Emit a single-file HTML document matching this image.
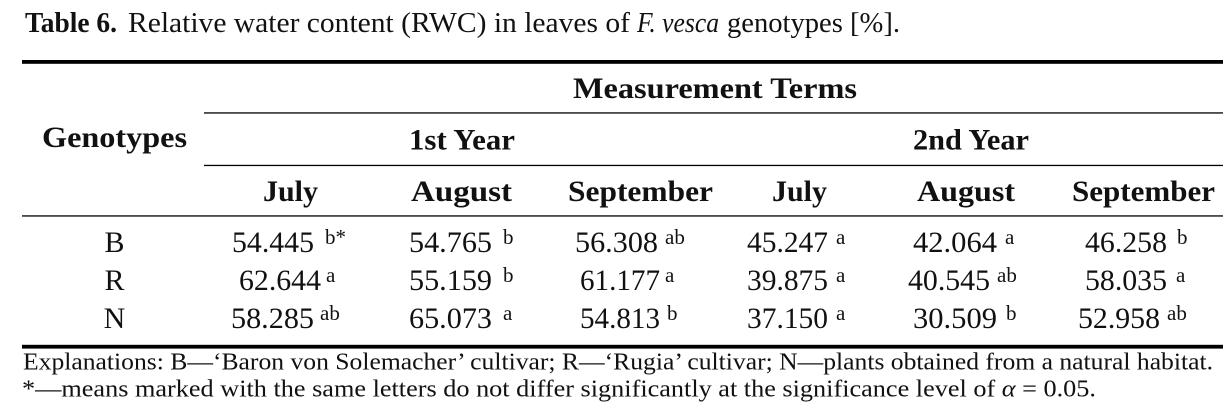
<!DOCTYPE html>
<html>
<head>
<meta charset="utf-8">
<style>
  html, body { margin: 0; padding: 0; background: #fff; }
  svg { display: block; }
  text { font-family: "Liberation Serif", "DejaVu Serif", serif; fill: #111; }
  .b { font-weight: bold; }
  .h { font-size: 30px; font-weight: bold; }
  .n { font-size: 30px; }
  .s { font-size: 21px; }
  .f { font-size: 24.5px; }
</style>
</head>
<body>
<svg width="1230" height="412" viewBox="0 0 1230 412" xmlns="http://www.w3.org/2000/svg">
  <rect x="0" y="0" width="1230" height="412" fill="#fff"/>

  <!-- Title -->
  <text x="25" y="32" font-size="28" class="b" textLength="92" lengthAdjust="spacingAndGlyphs">Table 6.</text>
  <text x="128" y="32" font-size="28" textLength="502" lengthAdjust="spacingAndGlyphs">Relative water content (RWC) in leaves of</text>
  <text x="637" y="32" font-size="28" font-style="italic" textLength="82" lengthAdjust="spacingAndGlyphs">F. vesca</text>
  <text x="727" y="32" font-size="28" textLength="173" lengthAdjust="spacingAndGlyphs">genotypes [%].</text>

  <!-- Rules -->
  <rect x="22" y="60" width="1201" height="3.8" fill="#000"/>
  <rect x="204" y="112.3" width="1019" height="1.3" fill="#000"/>
  <rect x="204" y="164.8" width="1019" height="1.3" fill="#000"/>
  <rect x="22" y="215.3" width="1201" height="1.3" fill="#000"/>
  <rect x="22" y="344.8" width="1201" height="3.8" fill="#000"/>

  <!-- Headers -->
  <text x="42" y="147" class="h" textLength="145" lengthAdjust="spacingAndGlyphs">Genotypes</text>
  <text x="573" y="98" class="h" textLength="284" lengthAdjust="spacingAndGlyphs">Measurement Terms</text>
  <text x="409" y="149.5" class="h" textLength="106" lengthAdjust="spacingAndGlyphs">1st Year</text>
  <text x="913" y="149.5" class="h" textLength="116" lengthAdjust="spacingAndGlyphs">2nd Year</text>

  <text x="263" y="201" class="h" textLength="55" lengthAdjust="spacingAndGlyphs">July</text>
  <text x="411" y="201" class="h" textLength="101" lengthAdjust="spacingAndGlyphs">August</text>
  <text x="568" y="201" class="h" textLength="145" lengthAdjust="spacingAndGlyphs">September</text>
  <text x="772" y="201" class="h" textLength="55" lengthAdjust="spacingAndGlyphs">July</text>
  <text x="917" y="201" class="h" textLength="98" lengthAdjust="spacingAndGlyphs">August</text>
  <text x="1072" y="201" class="h" textLength="143" lengthAdjust="spacingAndGlyphs">September</text>

  <!-- Genotype labels -->
  <text x="114.5" y="252" class="n" text-anchor="middle">B</text>
  <text x="114.5" y="290" class="n" text-anchor="middle">R</text>
  <text x="114.5" y="328" class="n" text-anchor="middle">N</text>

  <!-- Row B -->
  <text x="232" y="252" class="n" textLength="82" lengthAdjust="spacingAndGlyphs">54.445</text>
  <text x="325" y="244" class="s">b*</text>
  <text x="409" y="252" class="n" textLength="83" lengthAdjust="spacingAndGlyphs">54.765</text>
  <text x="503" y="244" class="s">b</text>
  <text x="575" y="252" class="n" textLength="83" lengthAdjust="spacingAndGlyphs">56.308</text>
  <text x="665" y="244" class="s">ab</text>
  <text x="747" y="252" class="n" textLength="81" lengthAdjust="spacingAndGlyphs">45.247</text>
  <text x="836" y="244" class="s">a</text>
  <text x="913" y="252" class="n" textLength="84" lengthAdjust="spacingAndGlyphs">42.064</text>
  <text x="1005" y="244" class="s">a</text>
  <text x="1085" y="252" class="n" textLength="82" lengthAdjust="spacingAndGlyphs">46.258</text>
  <text x="1177" y="244" class="s">b</text>

  <!-- Row R -->
  <text x="239" y="290" class="n" textLength="82" lengthAdjust="spacingAndGlyphs">62.644</text>
  <text x="326" y="282" class="s">a</text>
  <text x="409" y="290" class="n" textLength="83" lengthAdjust="spacingAndGlyphs">55.159</text>
  <text x="503" y="282" class="s">b</text>
  <text x="580" y="290" class="n" textLength="80" lengthAdjust="spacingAndGlyphs">61.177</text>
  <text x="665" y="282" class="s">a</text>
  <text x="747" y="290" class="n" textLength="81" lengthAdjust="spacingAndGlyphs">39.875</text>
  <text x="836" y="282" class="s">a</text>
  <text x="908" y="290" class="n" textLength="82" lengthAdjust="spacingAndGlyphs">40.545</text>
  <text x="997" y="282" class="s">ab</text>
  <text x="1085" y="290" class="n" textLength="82" lengthAdjust="spacingAndGlyphs">58.035</text>
  <text x="1176" y="282" class="s">a</text>

  <!-- Row N -->
  <text x="231" y="328" class="n" textLength="83" lengthAdjust="spacingAndGlyphs">58.285</text>
  <text x="320" y="320" class="s">ab</text>
  <text x="409" y="328" class="n" textLength="83" lengthAdjust="spacingAndGlyphs">65.073</text>
  <text x="503" y="320" class="s">a</text>
  <text x="580" y="328" class="n" textLength="80" lengthAdjust="spacingAndGlyphs">54.813</text>
  <text x="667" y="320" class="s">b</text>
  <text x="747" y="328" class="n" textLength="81" lengthAdjust="spacingAndGlyphs">37.150</text>
  <text x="836" y="320" class="s">a</text>
  <text x="913" y="328" class="n" textLength="84" lengthAdjust="spacingAndGlyphs">30.509</text>
  <text x="1006" y="320" class="s">b</text>
  <text x="1078" y="328" class="n" textLength="82" lengthAdjust="spacingAndGlyphs">52.958</text>
  <text x="1167" y="320" class="s">ab</text>

  <!-- Footnotes -->
  <text x="23" y="369.5" class="f" textLength="1190" lengthAdjust="spacingAndGlyphs">Explanations: B—‘Baron von Solemacher’ cultivar; R—‘Rugia’ cultivar; N—plants obtained from a natural habitat.</text>
  <text x="22" y="396.5" class="f" textLength="1074" lengthAdjust="spacingAndGlyphs">*—means marked with the same letters do not differ significantly at the significance level of <tspan font-style="italic">α</tspan> = 0.05.</text>
</svg>
</body>
</html>
